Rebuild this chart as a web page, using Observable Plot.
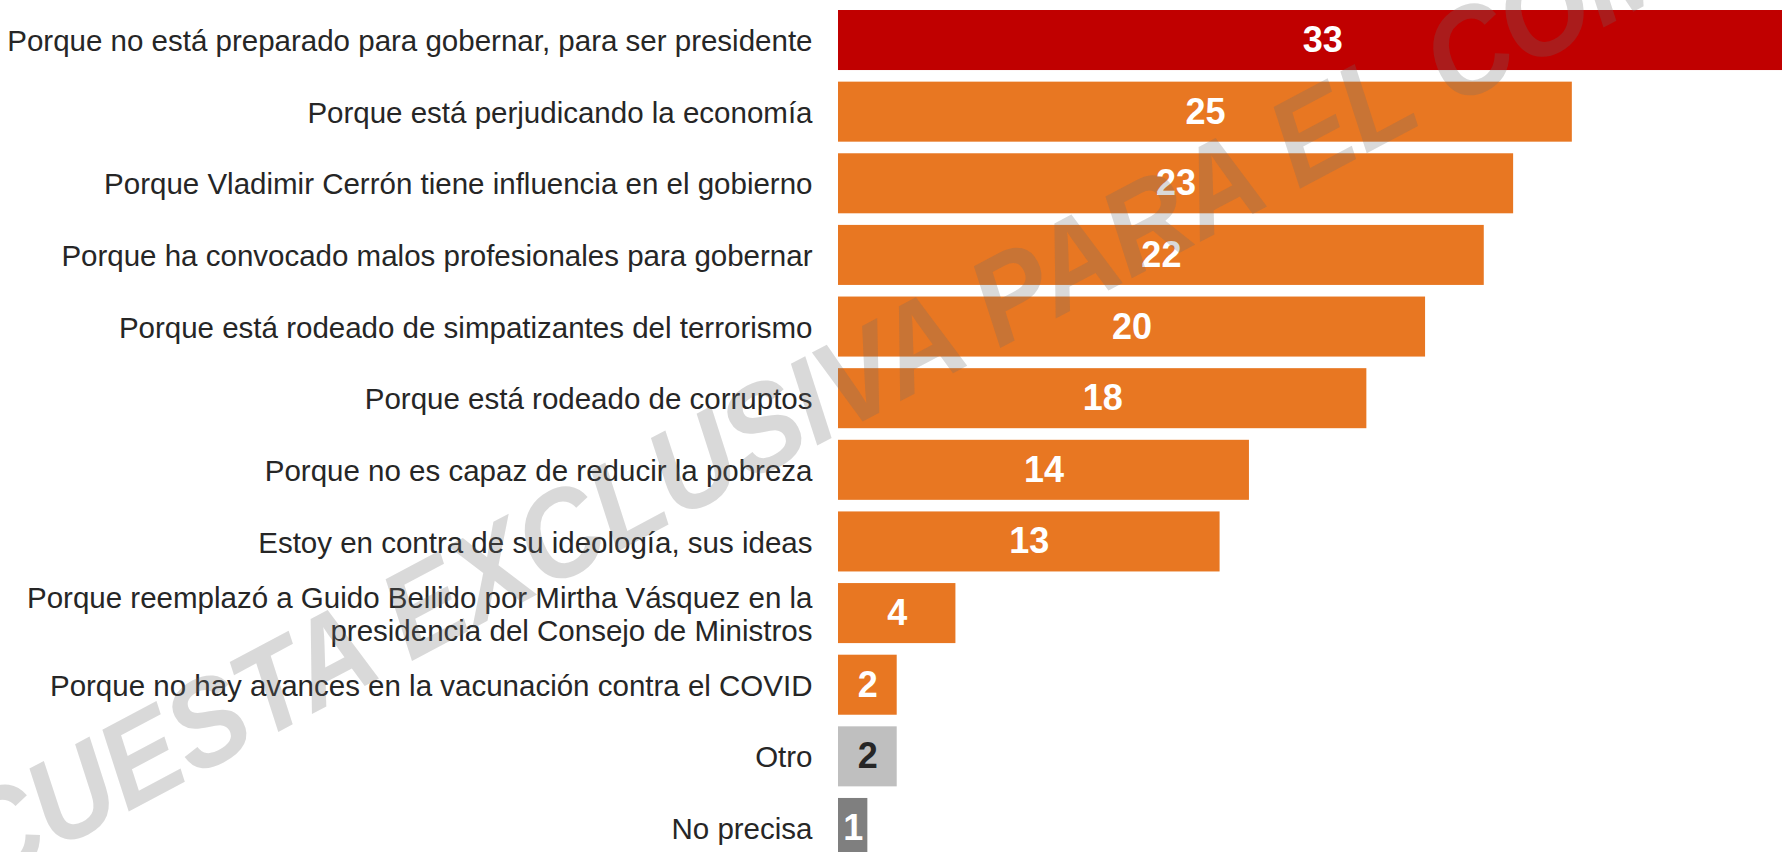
<!DOCTYPE html>
<html>
<head>
<meta charset="utf-8">
<script src="https://cdn.jsdelivr.net/npm/d3@7"></script>
<script src="https://cdn.jsdelivr.net/npm/@observablehq/plot@0.6"></script>
<style>
html, body { margin: 0; padding: 0; background: #fff; overflow: hidden; }
#wrap { position: relative; width: 1782px; height: 852px; overflow: hidden; }
#wm { position: absolute; left: 0; top: 0; pointer-events: none; }
</style>
</head>
<body>
<div id="wrap">
  <div id="chart"></div>
  <svg id="wm" width="1782" height="852" xmlns="http://www.w3.org/2000/svg">
    <text transform="translate(-156 963) rotate(-28) scale(0.92 1)"
      font-family="Arial, 'Liberation Sans', sans-serif" font-weight="bold" font-style="italic"
      font-size="123" fill="#6e6e6e" fill-opacity="0.26">ENCUESTA EXCLUSIVA PARA EL COMERCIO</text>
  </svg>
</div>
<script>
// ---- data ----
const categories = [
  "Porque no está preparado para gobernar, para ser presidente",
  "Porque está perjudicando la economía",
  "Porque Vladimir Cerrón tiene influencia en el gobierno",
  "Porque ha convocado malos profesionales para gobernar",
  "Porque está rodeado de simpatizantes del terrorismo",
  "Porque está rodeado de corruptos",
  "Porque no es capaz de reducir la pobreza",
  "Estoy en contra de su ideología, sus ideas",
  "Porque reemplazó a Guido Bellido por Mirtha Vásquez en la\npresidencia del Consejo de Ministros",
  "Porque no hay avances en la vacunación contra el COVID",
  "Otro",
  "No precisa"
];
const values = [33, 25, 23, 22, 20, 18, 14, 13, 4, 2, 2, 1];
const groups = ["principal", "razón", "razón", "razón", "razón", "razón", "razón", "razón", "razón", "razón", "otro", "no precisa"];

const groupDomain = ["principal", "razón", "otro", "no precisa"];
const groupColors = ["#C00000", "#E87722", "#BFBFBF", "#7F7F7F"];

const data = categories.map((c, i) => ({category: c, value: values[i], group: groups[i]}));

const chart = Plot.plot({
  width: 1782,
  height: 868,
  marginLeft: 838,
  marginRight: 0,
  marginTop: 0,
  marginBottom: 0,
  style: {fontFamily: "Arial, 'Liberation Sans', sans-serif", background: "#fff", color: "#262626", overflow: "hidden"},
  x: {domain: [0, 32.16], axis: null},
  y: {domain: categories, paddingInner: 0.162, paddingOuter: 0.1397, round: false, axis: null},
  color: {domain: groupDomain, range: groupColors},
  marks: [
    Plot.barX(data, {x: "value", y: "category", fill: "group"}),
    Plot.text(data, {
      x: d => d.value / 2,
      y: "category",
      text: d => String(d.value),
      fill: d => d.group === "otro" ? "#262626" : "#ffffff",
      fontSize: 36,
      fontWeight: "bold"
    }),
    Plot.axisY({
      tickSize: 0,
      tickPadding: 26,
      fontSize: 29.5,
      lineHeight: 1.12,
      label: null
    })
  ]
});
document.getElementById("chart").appendChild(chart);
</script>
</body>
</html>
